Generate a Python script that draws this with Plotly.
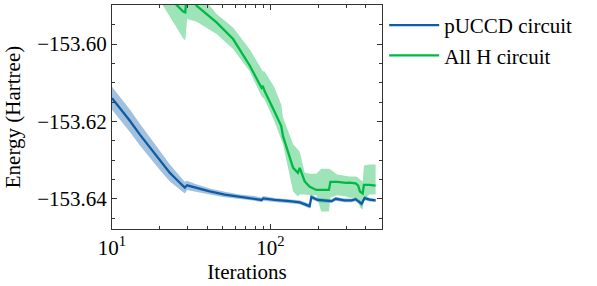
import plotly.graph_objects as go

# ---- data ----
iters_blue = [10.0, 11.4, 13.0, 15.0, 17.35, 20.1, 23.2, 26.1, 28.8, 29.8, 33.3, 41.4, 51.5, 64.1,
              79.6, 88.1, 89.9, 106.4, 132.3, 152.9, 176.8, 181.3, 198.6, 219.8, 243.3, 257.9,
              293.6, 325.3, 344.7, 376.1, 392.8, 422.5, 461]
energy_blue = [-153.6140, -153.6169, -153.6199, -153.6234, -153.6268, -153.6301, -153.6333, -153.6354,
               -153.6371, -153.6365, -153.6371, -153.6381, -153.6389, -153.6395, -153.6399, -153.6403,
               -153.6399, -153.6403, -153.6406, -153.6409, -153.6419, -153.6395, -153.6403, -153.6404,
               -153.6406, -153.6400, -153.6404, -153.6404, -153.6401, -153.6413, -153.6398, -153.6402,
               -153.6404]
err_blue = [0.0030, 0.0030, 0.0029, 0.0028, 0.0027, 0.0025, 0.0022, 0.0018, 0.0015, 0.0012, 0.0010,
            0.0008, 0.0007, 0.0006, 0.0006, 0.0006, 0.0006, 0.0005, 0.0005, 0.0005, 0.0006, 0.0006,
            0.0005, 0.0005, 0.0005, 0.0005, 0.0005, 0.0005, 0.0005, 0.0007, 0.0006, 0.0005, 0.0004]

iters_green = [10, 14, 18, 20.6, 25.6, 28.1, 29.0, 29.8, 34.2, 45.7, 58.1, 74.1, 87.8, 89.4, 92.0,
               106, 117, 120, 139, 149, 153, 164.5, 177, 195, 209, 234, 239, 264, 300, 315, 345,
               358, 367, 382, 389, 422, 461]
energy_green = [-153.5600, -153.5680, -153.5760, -153.5815, -153.5899, -153.5916, -153.5918, -153.5860,
                -153.5901, -153.5944, -153.5987, -153.6056, -153.6113, -153.6108, -153.6122, -153.6174,
                -153.6212, -153.6238, -153.6320, -153.6333, -153.6320, -153.6355, -153.6369, -153.6377,
                -153.6377, -153.6377, -153.6356, -153.6356, -153.6359, -153.6358, -153.6360, -153.6366,
                -153.6381, -153.6386, -153.6364, -153.6364, -153.6366]
low_green = [-153.5680, -153.5760, -153.5835, -153.5895, -153.5959, -153.5985, -153.5991, -153.5935,
             -153.5942, -153.5974, -153.6013, -153.6071, -153.6135, -153.6138, -153.6143, -153.6200,
             -153.6247, -153.6259, -153.6381, -153.6394, -153.6389, -153.6389, -153.6391, -153.6391,
             -153.6433, -153.6433, -153.6397, -153.6391, -153.6394, -153.6397, -153.6397, -153.6402,
             -153.6422, -153.6428, -153.6402, -153.6389, -153.6389]
high_green = [-153.5520, -153.5600, -153.5690, -153.5740, -153.5830, -153.5850, -153.5850, -153.5790,
              -153.5860, -153.5922, -153.5957, -153.6014, -153.6065, -153.6070, -153.6071, -153.6112,
              -153.6156, -153.6190, -153.6259, -153.6272, -153.6278, -153.6332, -153.6335, -153.6335,
              -153.6322, -153.6322, -153.6324, -153.6337, -153.6340, -153.6342, -153.6342, -153.6345,
              -153.6350, -153.6355, -153.6314, -153.6311, -153.6311]

y_ticks = [-153.60, -153.62, -153.64]
y_ticktext = ["\u2212153.60", "\u2212153.62", "\u2212153.64"]
x_ticks = [10, 100]
x_ticktext = ["10<sup>1</sup>", "10<sup>2</sup>"]
x_minor = [20, 30, 40, 50, 60, 70, 80, 90, 200, 300, 400, 500]

BLUE = "#0C5DA5"
GREEN = "#00B945"
FONT = "Liberation Serif"
FS = 21

fig = go.Figure()

blue_hi = [m + e for m, e in zip(energy_blue, err_blue)]
blue_lo = [m - e for m, e in zip(energy_blue, err_blue)]

fig.add_trace(go.Scatter(x=iters_blue + iters_blue[::-1], y=blue_hi + blue_lo[::-1],
                         fill="toself", fillcolor="rgba(12,93,165,0.38)", line=dict(width=0),
                         mode="lines", showlegend=False, hoverinfo="skip"))
fig.add_trace(go.Scatter(x=iters_green + iters_green[::-1], y=high_green + low_green[::-1],
                         fill="toself", fillcolor="rgba(0,185,69,0.38)", line=dict(width=0),
                         mode="lines", showlegend=False, hoverinfo="skip"))
fig.add_trace(go.Scatter(x=iters_blue, y=energy_blue, mode="lines", name="pUCCD circuit",
                         line=dict(color=BLUE, width=2.3)))
fig.add_trace(go.Scatter(x=iters_green, y=energy_green, mode="lines", name="All H circuit",
                         line=dict(color=GREEN, width=2.3)))

axis_common = dict(showline=True, linecolor="#333333", linewidth=1.1, mirror="ticks",
                   ticks="inside", ticklen=5, tickwidth=1, tickcolor="#333333",
                   showgrid=False, zeroline=False,
                   tickfont=dict(family=FONT, size=FS, color="black"))

fig.update_xaxes(type="log", range=[1, 2.704], tickmode="array", tickvals=x_ticks,
                 ticktext=x_ticktext,
                 minor=dict(ticks="inside", ticklen=2.5, tickcolor="#333333", tickvals=x_minor,
                            showgrid=False),
                 title=dict(text="Iterations", font=dict(family=FONT, size=FS, color="black"),
                            standoff=5),
                 **axis_common)
fig.update_yaxes(range=[-153.6478, -153.5899], tickmode="array", tickvals=y_ticks,
                 ticktext=y_ticktext,
                 minor=dict(ticks="inside", ticklen=2.5, tickcolor="#333333", dtick=0.005,
                            tick0=-153.60, showgrid=False),
                 title=dict(text="Energy (Hartree)", font=dict(family=FONT, size=FS, color="black"),
                            standoff=10),
                 **axis_common)

fig.update_layout(
    width=597, height=286,
    margin=dict(l=112, r=214.5, t=5, b=56.5, autoexpand=False),
    paper_bgcolor="white", plot_bgcolor="white",
    font=dict(family=FONT, size=FS, color="black"),
    legend=dict(x=1.008, y=1.0, xanchor="left", yanchor="top", itemwidth=50,
                font=dict(family=FONT, size=FS, color="black"),
                bgcolor="rgba(0,0,0,0)", borderwidth=0, tracegroupgap=0),
    showlegend=True,
)

fig.write_html("out.html", config={"displayModeBar": False},
               post_script="document.body.style.margin='0';document.body.style.padding='0';")
